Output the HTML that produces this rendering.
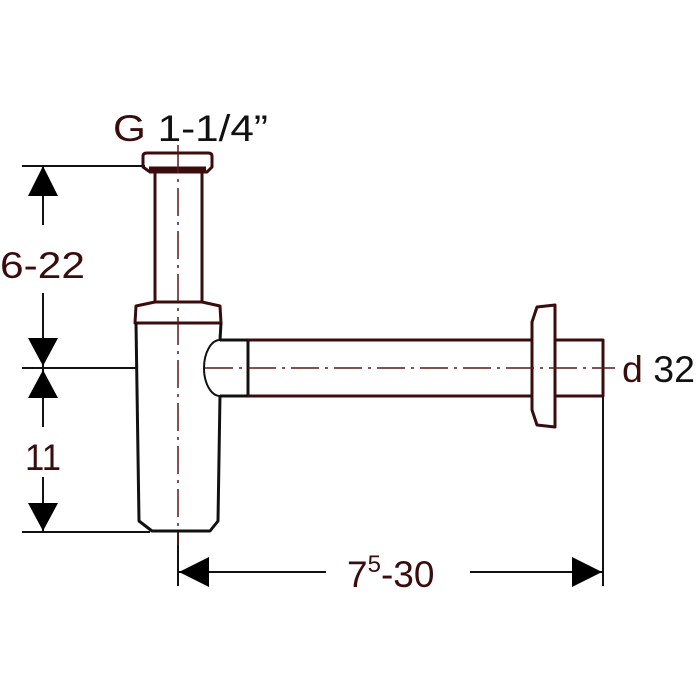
<!DOCTYPE html>
<html><head><style>body{margin:0;background:#fff}svg{display:block}</style></head>
<body>
<svg width="700" height="700" viewBox="0 0 700 700" xmlns="http://www.w3.org/2000/svg">
<rect width="700" height="700" fill="#fff"/>
<g stroke="#111" stroke-width="2" fill="none">
  <line x1="22" y1="166" x2="145" y2="166"/>
  <line x1="22" y1="368" x2="136" y2="368"/>
  <line x1="22" y1="532" x2="150" y2="532"/>
  <line x1="43" y1="166" x2="43" y2="225"/>
  <line x1="43" y1="293" x2="43" y2="368"/>
  <line x1="43" y1="368" x2="43" y2="427"/>
  <line x1="43" y1="477" x2="43" y2="532"/>
  <line x1="178" y1="532" x2="178" y2="586"/>
  <line x1="603" y1="396" x2="603" y2="586"/>
  <line x1="178" y1="572" x2="326" y2="572"/>
  <line x1="470" y1="572" x2="603" y2="572"/>
</g>
<g fill="#000">
  <polygon points="43,166 28,196 58,196"/>
  <polygon points="43,366 28,338 58,338"/>
  <polygon points="43,370 28,398 58,398"/>
  <polygon points="43,531 28,503 58,503"/>
  <polygon points="179,572 209,557 209,587"/>
  <polygon points="602,572 572,557 572,587"/>
</g>
<g stroke="#3a0c0c" stroke-width="3" fill="none" stroke-linejoin="round">
  <path d="M143,156 Q143,153 147,153 L208,153 Q212,153 212,156 L212,167 L207,172 L150,172 L143,167 Z"/>
  <line x1="149" y1="169" x2="206" y2="169" stroke-width="5"/>
  <line x1="155" y1="172" x2="155" y2="302"/>
  <line x1="202" y1="172" x2="202" y2="302"/>
  <path d="M155,302 L202,302 L220,306 L221,323 L135,323 L136,306 Z"/>
</g>
<g stroke="#111" stroke-width="3" fill="none" stroke-linejoin="round">
  <path d="M136,323 L139,521 L152,531 L210,531 L218,521 L220,395"/>
  <path d="M220,340 L221,323"/>
  <path d="M220,340 L248,340 L248,396 L220,396"/>
  <path d="M220,340 A16,28 0 0 0 220,396" stroke-width="2"/>
</g>
<g stroke="#3a0c0c" stroke-width="3" fill="none" stroke-linejoin="round">
  <path d="M248,340 L532,340 M248,396 L532,396"/>
  <path d="M537,307 L555,305 L555,427 L537,425 L532,410 L532,322 Z"/>
  <path d="M555,340 L603,340 L603,396 L555,396"/>
</g>
<g stroke="#5a1a1a" stroke-width="1.5" fill="none" stroke-dasharray="28,6,3,6">
  <line x1="178" y1="145" x2="178" y2="545"/>
  <line x1="205" y1="368" x2="615" y2="368"/>
</g>
<g font-family="Liberation Sans, sans-serif" font-size="37" fill="#3a0c0c">
  <text x="113" y="141" textLength="155" lengthAdjust="spacingAndGlyphs">G <tspan fill="#111">1-1/4”</tspan></text>
  <text x="0" y="278" textLength="85" lengthAdjust="spacingAndGlyphs">6-22</text>
  <text x="25" y="470" textLength="36" lengthAdjust="spacingAndGlyphs">11</text>
  <text x="347" y="587">7<tspan font-size="24" dy="-15">5</tspan><tspan dy="15">-30</tspan></text>
  <text x="622" y="382" textLength="73" lengthAdjust="spacingAndGlyphs">d <tspan fill="#111">32</tspan></text>
</g>
</svg>
</body></html>
